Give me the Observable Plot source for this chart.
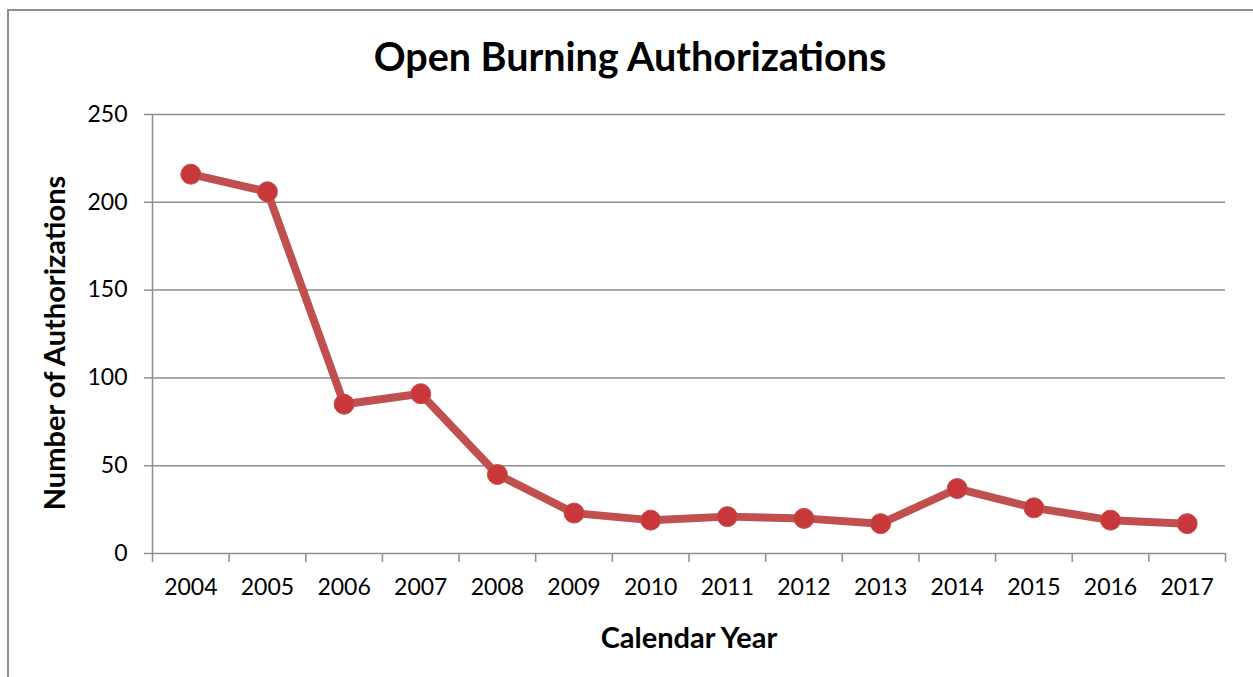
<!DOCTYPE html>
<html>
<head>
<meta charset="utf-8">
<script src="https://cdn.jsdelivr.net/npm/d3@7"></script>
<script src="https://cdn.jsdelivr.net/npm/@observablehq/plot@0.6"></script>
<style>
  html, body { margin: 0; padding: 0; background: #fff; overflow: hidden; }
  #wrap { position: relative; width: 1253px; height: 677px; }
  #border { position: absolute; left: 7px; top: 9px; width: 1260px; height: 690px; border: 2px solid #8e8e8e; box-sizing: border-box; }
  #title { position: absolute; left: 0; top: 36px; width: 1260px; text-align: center; font: bold 39.5px/39.5px Lato, "Open Sans", sans-serif; color: #000; }
  #chart { position: absolute; left: 0; top: 0; }
</style>
</head>
<body>
<div id="wrap">
  <div id="border"></div>
  <div id="chart"></div>
  <div id="title">Open Burning Authorizations</div>
</div>
<script>
const years = [2004, 2005, 2006, 2007, 2008, 2009, 2010, 2011, 2012, 2013, 2014, 2015, 2016, 2017];
const authorizations = [216, 206, 85, 91, 45, 23, 19, 21, 20, 17, 37, 26, 19, 17];
const yTicks = [0, 50, 100, 150, 200, 250];
const yTitle = "Number of Authorizations";
const xTitle = "Calendar Year";

const data = years.map((y, i) => ({year: y, value: authorizations[i]}));
const boundaries = d3.range(years[0] - 0.5, years[years.length - 1] + 1, 1);

const font = "Lato, 'Open Sans', sans-serif";
const red = "#c0504d";
const grid = "#8e8e8e";

const chart = Plot.plot({
  width: 1253,
  height: 677,
  marginLeft: 152,
  marginRight: 28,
  marginTop: 114,
  marginBottom: 124,
  style: {fontFamily: font, background: "transparent", overflow: "visible"},
  x: {type: "linear", domain: [years[0] - 0.5, years[years.length - 1] + 0.5]},
  y: {domain: [0, 250]},
  marks: [
    Plot.ruleY(yTicks.filter(d => d > 0), {stroke: grid, strokeWidth: 1.5}),
    Plot.axisY({ticks: yTicks, tickSize: 8, tickPadding: 17, stroke: grid, strokeWidth: 1.5, fontSize: 23, label: null, fill: "#000"}),
    Plot.ruleX([years[0] - 0.5], {y1: 0, y2: 250, stroke: grid, strokeWidth: 1.5}),
    Plot.ruleY([0], {x1: years[0] - 0.5, x2: years[years.length - 1] + 0.5, stroke: grid, strokeWidth: 1.5}),
    Plot.axisX({ticks: boundaries, tickSize: 9, tickFormat: () => "", stroke: grid, strokeWidth: 1.5, label: null}),
    Plot.axisX({ticks: years, tickSize: 0, tickPadding: 25, tickFormat: d => String(d), fontSize: 23, label: null, fill: "#000"}),
    Plot.line(data, {x: "year", y: "value", stroke: red, strokeWidth: 8, strokeLinejoin: "round"}),
    Plot.dot(data, {x: "year", y: "value", r: 10, fill: "#c8383b", stroke: "#c0504d", strokeWidth: 1, style: "filter: drop-shadow(1px 3px 2px rgba(0,0,0,0.35))"}),
    Plot.text([yTitle], {frameAnchor: "left", textAnchor: "middle", dx: -97, dy: 9, rotate: -90, fontSize: 29, fontWeight: "bold", fill: "#000"}),
    Plot.text([xTitle], {frameAnchor: "bottom", dy: 94, fontSize: 29, fontWeight: "bold", fill: "#000"})
  ]
});
document.getElementById("chart").appendChild(chart);
</script>
</body>
</html>
